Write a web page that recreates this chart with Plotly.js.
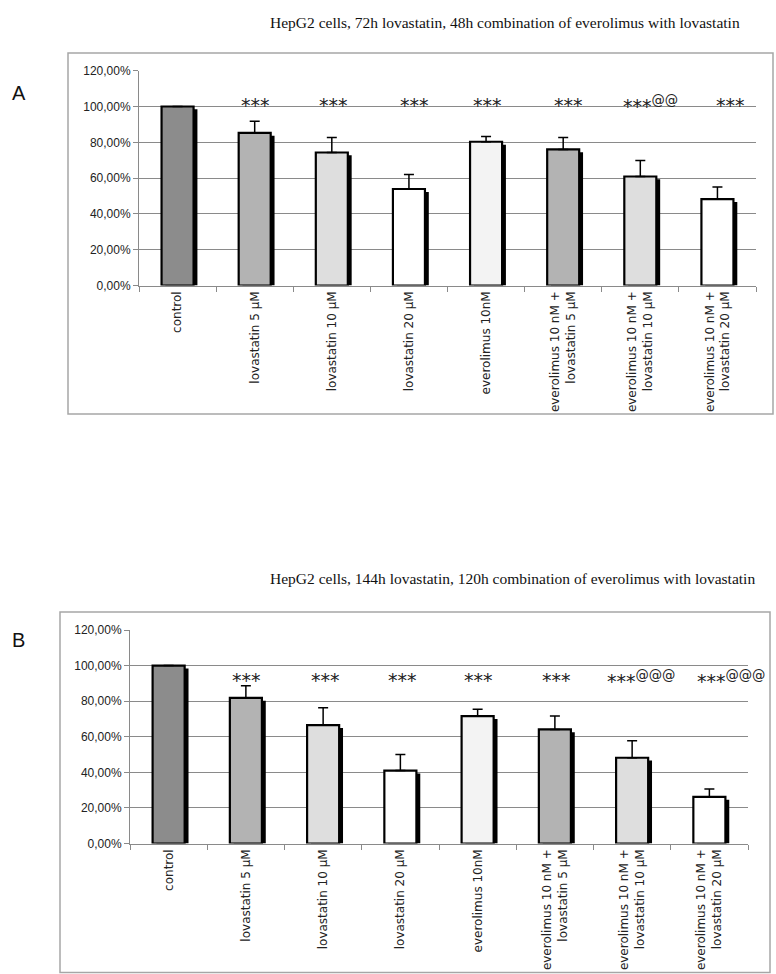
<!DOCTYPE html>
<html>
<head>
<meta charset="utf-8">
<script src="https://cdn.plot.ly/plotly-3.0.1.min.js"></script>
<style>html,body{margin:0;padding:0;background:#fff;}#chart{width:776px;height:974px;}</style>
</head>
<body>
<div id="chart"></div>
<script>
// ---- data ----
const categories = ['control', 'lovastatin 5 µM', 'lovastatin 10 µM', 'lovastatin 20 µM', 'everolimus 10nM',
  'everolimus 10 nM + lovastatin 5 µM', 'everolimus 10 nM + lovastatin 10 µM', 'everolimus 10 nM + lovastatin 20 µM'];
const tickLabels = ['control', 'lovastatin 5 µM', 'lovastatin 10 µM', 'lovastatin 20 µM', 'everolimus 10nM',
  'everolimus 10 nM +<br>lovastatin 5 µM', 'everolimus 10 nM +<br>lovastatin 10 µM', 'everolimus 10 nM +<br>lovastatin 20 µM'];
const valuesA = [100, 85.3, 74.3, 53.9, 80.3, 76.0, 60.9, 48.2];
const errorsA = [0, 6.5, 8.4, 8.1, 3.0, 6.7, 8.9, 6.8];
const valuesB = [100, 81.9, 66.5, 41.0, 71.6, 64.1, 48.2, 26.2];
const errorsB = [0, 6.8, 9.8, 9.0, 3.9, 7.5, 9.5, 4.5];
const sigA = ['', '***', '***', '***', '***', '***', '***@@', '***'];
const sigB = ['', '***', '***', '***', '***', '***', '***@@@', '***@@@'];
const titleA = 'HepG2 cells, 72h lovastatin, 48h combination of everolimus with lovastatin';
const titleB = 'HepG2 cells, 144h lovastatin, 120h combination of everolimus with lovastatin';
const panelLabels = ['A', 'B'];
const barColors = ['#8c8c8c', '#b3b3b3', '#dedede', '#ffffff', '#f3f3f3', '#b3b3b3', '#dedede', '#ffffff'];

// ---- styling ----
const W = 776, H = 974;
const barW = 0.415;
const shadowDx = 0.05;
const shadowDy = 1.6; // percent units
const sigShiftA = [0, 1, 2, 6, 1, 5, 10, 13];   // label nudges, px
const sigShiftB = [0, 1, 2, 2, 1, 2, 9, 22];
const tickFont = {family: 'Liberation Sans, Arial, sans-serif', size: 12, color: '#222'};
const catFont = {family: 'DejaVu Sans, Verdana, sans-serif', size: 12, color: '#222'};
const gridC = '#8a8a8a';

function px(x) { return x / W; }
function py(y) { return (H - y) / H; }

function traces(vals, errs, xa, ya) {
  const frac = vals.map(v => v / 100);
  const shadow = {
    type: 'bar', x: categories, y: vals.map(v => Math.max(0, v - shadowDy) / 100),
    xaxis: xa, yaxis: ya, width: barW, offset: -barW / 2 + shadowDx,
    marker: {color: '#000', line: {width: 0}}, hoverinfo: 'skip', showlegend: false
  };
  const main = {
    type: 'bar', x: categories, y: frac, xaxis: xa, yaxis: ya, width: barW, offset: -barW / 2,
    marker: {color: barColors, line: {color: '#000', width: 2.2}},
    error_y: {type: 'data', symmetric: false, array: errs.map(e => e / 100), arrayminus: errs.map(() => 0),
      color: '#000', thickness: 1.5, width: 5, visible: true},
    showlegend: false
  };
  return [shadow, main];
}

function yAxis(dom) {
  return {
    domain: dom, range: [0, 1.2], tickvals: [0, 0.2, 0.4, 0.6, 0.8, 1.0, 1.2], tickformat: '.2%',
    showgrid: true, gridcolor: gridC, gridwidth: 1, zeroline: false,
    showline: true, linecolor: gridC, linewidth: 1, ticks: 'outside', ticklen: 5, tickcolor: gridC,
    tickfont: tickFont, fixedrange: true
  };
}
function xAxis(dom, anchor) {
  return {
    domain: dom, anchor: anchor, type: 'category', tickvals: categories, ticktext: tickLabels,
    tickangle: -90, tickfont: catFont, showline: true, linecolor: gridC, linewidth: 1,
    ticks: 'outside', ticklen: 5, tickcolor: gridC, tickson: 'boundaries', showgrid: false,
    range: [-0.5, 7.5], fixedrange: true
  };
}

const data = [...traces(valuesA, errorsA, 'x', 'y'), ...traces(valuesB, errorsB, 'x2', 'y2')];

const annotations = [];
function sigAnn(list, shifts, xa, ya, yshift) {
  list.forEach((s, i) => {
    if (!s) return;
    const txt = s.replace(/(@+)/, m => '<sup>' + m + '</sup>');
    annotations.push({x: categories[i], y: 1.0, xref: xa, yref: ya, text: txt, showarrow: false,
      yanchor: 'middle', yshift: yshift, xshift: shifts[i],
      font: {family: 'DejaVu Sans, Verdana, sans-serif', size: 19, color: '#222'}});
  });
}
sigAnn(sigA, sigShiftA, 'x', 'y', 2);
sigAnn(sigB, sigShiftB, 'x2', 'y2', -14);

annotations.push({x: px(505), y: py(12), xref: 'paper', yref: 'paper', text: titleA, showarrow: false,
  font: {family: 'Liberation Serif, Times New Roman, serif', size: 15.5, color: '#111'}});
annotations.push({x: px(512), y: py(578), xref: 'paper', yref: 'paper', text: titleB, showarrow: false,
  font: {family: 'Liberation Serif, Times New Roman, serif', size: 15.5, color: '#111'}});
annotations.push({x: px(10), y: py(80), xref: 'paper', yref: 'paper', text: panelLabels[0], showarrow: false,
  font: {family: 'Liberation Sans Narrow, Liberation Sans, Arial, sans-serif', size: 20, color: '#111'}});
annotations.push({x: px(10), y: py(640), xref: 'paper', yref: 'paper', text: panelLabels[1], showarrow: false,
  font: {family: 'Liberation Sans Narrow, Liberation Sans, Arial, sans-serif', size: 20, color: '#111'}});

const shapes = [
  {type: 'rect', xref: 'paper', yref: 'paper', x0: px(68), x1: px(773), y0: py(414), y1: py(53),
    line: {color: '#a6a6a6', width: 1.5}, layer: 'below'},
  {type: 'rect', xref: 'paper', yref: 'paper', x0: px(60), x1: px(770), y0: py(972.5), y1: py(612),
    line: {color: '#a6a6a6', width: 1.5}, layer: 'below'}
];

const layout = {
  width: W, height: H, margin: {l: 0, r: 0, t: 0, b: 0}, paper_bgcolor: '#fff', plot_bgcolor: 'rgba(0,0,0,0)',
  separators: ', ', barmode: 'overlay', showlegend: false,
  xaxis: xAxis([px(139), px(756)], 'y'),
  yaxis: yAxis([py(285.5), py(70.7)]),
  xaxis2: xAxis([px(130), px(748)], 'y2'),
  yaxis2: Object.assign(yAxis([py(843.5), py(630)]), {anchor: 'x2'}),
  annotations: annotations, shapes: shapes
};
layout.yaxis.anchor = 'x';

Plotly.newPlot('chart', data, layout, {displayModeBar: false, staticPlot: true});
</script>
</body>
</html>
